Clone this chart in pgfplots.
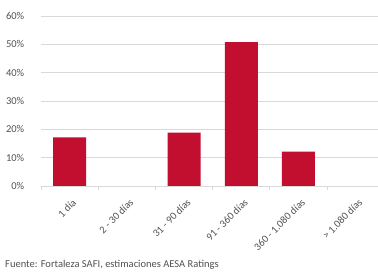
\documentclass[border=0pt]{standalone}
\usepackage{fontspec}
\setmainfont{Carlito}
\usepackage{pgfplots}
\pgfplotsset{compat=1.18}
\definecolor{barred}{HTML}{C20E2F}
\definecolor{txtgrey}{HTML}{505050}
\definecolor{gridgrey}{HTML}{D9D9D9}
\begin{document}
\begin{tikzpicture}
\path[use as bounding box] (0pt,0pt) rectangle (378pt,272pt);
\begin{axis}[
  at={(41pt,86pt)}, anchor=south west,
  scale only axis, width=337pt, height=170pt,
  xmin=-0.5, xmax=5.39, ymin=0, ymax=60,
  axis x line*=bottom, axis y line*=left,
  x axis line style={draw=gridgrey, line width=0.8pt},
  y axis line style={draw=none},
  ytick={0,10,20,30,40,50,60},
  yticklabels={0\%,10\%,20\%,30\%,40\%,50\%,60\%},
  ymajorgrids, grid style={gridgrey, line width=0.8pt},
  ytick style={draw=none},
  yticklabel style={font=\fontsize{10.5}{12}\selectfont, text=txtgrey, xshift=-9pt},
  xtick={0,1,2,3,4,5},
  xticklabels={1 día, 2 - 30 días, 31 - 90 días, 91 - 360 días, 360 - 1.080 días, > 1.080 días},
  xticklabel style={font=\fontsize{10.5}{12}\selectfont, text=txtgrey, rotate=45, anchor=north east, inner sep=1pt, xshift=-3pt, yshift=-6pt},
  major x tick style={draw=none},
  minor xtick={-0.5,0.5,1.5,2.5,3.5,4.5},
  minor x tick style={draw=gridgrey, line width=0.8pt},
  tick align=outside, minor tick length=4pt,
  clip=false,
]
\addplot[ybar, bar width=33pt, fill=barred, draw=none] coordinates {(0,17.2) (2,18.8) (3,50.8) (4,12.1)};
\end{axis}
\node[anchor=base west, text=txtgrey, font=\fontsize{10.5}{12}\selectfont, inner sep=0pt] at (5pt,4pt) {Fuente: Fortaleza SAFI, estimaciones AESA Ratings};
\end{tikzpicture}
\end{document}
